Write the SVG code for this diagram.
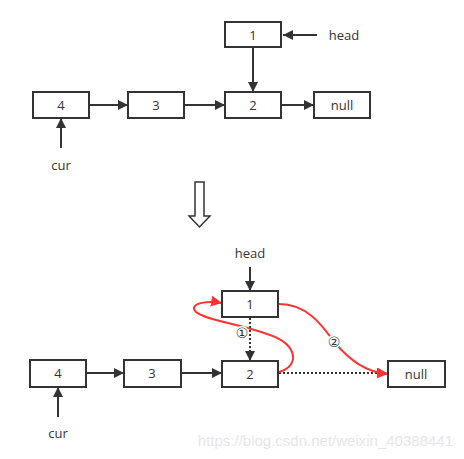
<svg xmlns="http://www.w3.org/2000/svg" width="464" height="459" viewBox="0 0 464 459">
<defs>
<marker id="ah" viewBox="0 0 10 10" refX="10" refY="5" markerWidth="10" markerHeight="10" markerUnits="userSpaceOnUse" orient="auto"><path d="M0,0 L10,5 L0,10 Z" fill="#333"/></marker>
<marker id="ahr" viewBox="0 0 10 10" refX="10" refY="5" markerWidth="11" markerHeight="11" markerUnits="userSpaceOnUse" orient="auto"><path d="M0,0 L10,5 L0,10 Z" fill="#f33"/></marker>
</defs>
<style>
.box{fill:#fff;stroke:#333;stroke-width:2}
.t{font-family:"Open Sans","Noto Sans",sans-serif;font-size:13px;fill:#333;text-anchor:middle;dominant-baseline:central}
.c{font-family:"DejaVu Sans","Noto Sans",sans-serif;font-size:14px;fill:#333;text-anchor:middle;dominant-baseline:central}
.ln{stroke:#333;stroke-width:2;fill:none}
.dot{stroke:#333;stroke-width:2;fill:none;stroke-dasharray:2 2}
.red{stroke:#f33;stroke-width:2;fill:none}
</style>
<rect width="464" height="459" fill="#fff"/>
<g id="connectors">
<path class="ln" d="M317,35 H283" marker-end="url(#ah)"/>
<path class="ln" d="M253,47 V92" marker-end="url(#ah)"/>
<path class="ln" d="M89,105 H128" marker-end="url(#ah)"/>
<path class="ln" d="M184,105 H225" marker-end="url(#ah)"/>
<path class="ln" d="M281,105 H314" marker-end="url(#ah)"/>
<path class="ln" d="M61,148 V118" marker-end="url(#ah)"/>
<path class="ln" d="M250,267 V291" marker-end="url(#ah)"/>
<path class="dot" d="M250,318 V361" marker-end="url(#ah)"/>
<path class="dot" d="M279,373 H387" marker-end="url(#ah)"/>
<path class="ln" d="M86,373 H124" marker-end="url(#ah)"/>
<path class="ln" d="M181,373 H222" marker-end="url(#ah)"/>
<path class="ln" d="M58,417 V387" marker-end="url(#ah)"/>
<path class="red" d="M279,372 C300,366 298,345 270,335 C240,324 205,320 196,312 C188,304 205,300 222,303" marker-end="url(#ahr)"/>
<path class="red" d="M279,304 C310,304 325,330 335,343 C350,360 365,372 388,374" marker-end="url(#ahr)"/>
</g>
<g id="arrow-down"><path d="M195,182 H204 V216 H210 L199.5,227 L189,216 H195 Z" fill="#fff" stroke="#333" stroke-width="1.5"/></g>
<g id="top-1"><rect class="box" x="225" y="22" width="56" height="25"/><text class="t" x="253" y="35">1</text></g>
<g id="top-head"><text class="t" x="344" y="35">head</text></g>
<g id="top-4"><rect class="box" x="33" y="92" width="56" height="26"/><text class="t" x="61" y="105">4</text></g>
<g id="top-3"><rect class="box" x="128" y="92" width="56" height="26"/><text class="t" x="156" y="105">3</text></g>
<g id="top-2"><rect class="box" x="225" y="92" width="56" height="26"/><text class="t" x="253" y="105">2</text></g>
<g id="top-null"><rect class="box" x="314" y="92" width="56" height="26"/><text class="t" x="342" y="105">null</text></g>
<g id="top-cur"><text class="t" x="61" y="165">cur</text></g>
<g id="bot-head"><text class="t" x="250" y="253">head</text></g>
<g id="bot-1"><rect class="box" x="222" y="291" width="56" height="26"/><text class="t" x="250" y="304">1</text></g>
<g id="bot-4"><rect class="box" x="30" y="360" width="56" height="27"/><text class="t" x="58" y="373">4</text></g>
<g id="bot-3"><rect class="box" x="124" y="360" width="57" height="27"/><text class="t" x="152" y="373">3</text></g>
<g id="bot-2"><rect class="box" x="222" y="361" width="56" height="26"/><text class="t" x="250" y="374">2</text></g>
<g id="bot-null"><rect class="box" x="388" y="361" width="57" height="26"/><text class="t" x="416" y="374">null</text></g>
<g id="bot-cur"><text class="t" x="58" y="433">cur</text></g>
<g id="labels"><text class="c" x="242" y="333" style="fill:#fff;stroke:#fff;stroke-width:3">①</text><text class="c" x="242" y="333">①</text><text class="c" x="334" y="342" style="fill:#fff;stroke:#fff;stroke-width:3">②</text><text class="c" x="334" y="342">②</text></g>
<text x="453" y="446" text-anchor="end" font-family="'Liberation Sans',Arial,sans-serif" font-size="15" fill="#e6e6e6">https://blog.csdn.net/weixin_40388441</text>
</svg>
